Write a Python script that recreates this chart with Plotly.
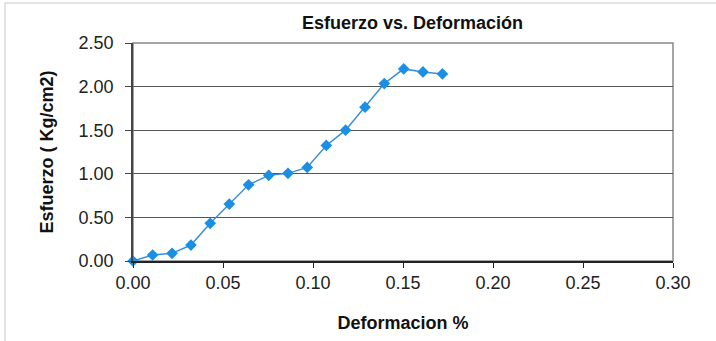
import plotly.graph_objects as go

deformacion = [0.0, 0.0109, 0.0217, 0.0322, 0.0429, 0.0535, 0.0642, 0.0754, 0.0861,
               0.0968, 0.1074, 0.1181, 0.1289, 0.1396, 0.1504, 0.1611, 0.1719]
esfuerzo = [0.0, 0.069, 0.088, 0.183, 0.432, 0.653, 0.874, 0.982, 1.005,
            1.073, 1.325, 1.50, 1.764, 2.035, 2.203, 2.168, 2.145]

x_ticks = [0.0, 0.05, 0.10, 0.15, 0.20, 0.25, 0.30]
x_labels = ["0.00", "0.05", "0.10", "0.15", "0.20", "0.25", "0.30"]
y_ticks = [0.0, 0.5, 1.0, 1.5, 2.0, 2.5]
y_labels = ["0.00", "0.50", "1.00", "1.50", "2.00", "2.50"]

FONT = "Liberation Sans, Arial, sans-serif"

fig = go.Figure()
fig.add_trace(go.Scatter(
    x=deformacion, y=esfuerzo, mode="lines+markers",
    line=dict(color="#3b8fd9", width=1.5),
    marker=dict(symbol="diamond", size=9, color="#1a8fe3"),
    cliponaxis=False, showlegend=False,
))

L, R, T, B = 133, 716 - 673, 43, 341 - 261
pw, ph = 673 - 133, 261 - 43

fig.update_layout(
    width=716, height=341,
    margin=dict(l=L, r=R, t=T, b=B, pad=0),
    paper_bgcolor="white", plot_bgcolor="white",
    font=dict(family=FONT, color="#222"),
    title=dict(text="<b>Esfuerzo vs. Deformación</b>", x=412.5 / 716, xanchor="center",
               y=1 - 22.5 / 341, yanchor="middle", font=dict(size=18, color="#111")),
    xaxis=dict(range=[0, 0.30], tickvals=x_ticks, ticktext=x_labels,
               showgrid=False, zeroline=False, showline=True, linecolor="#222",
               linewidth=1.5, ticks="outside", ticklen=5, tickcolor="#222",
               tickfont=dict(size=18, color="#222"),
               title=dict(text="<b>Deformacion %</b>", font=dict(size=18, color="#111"),
                          standoff=24)),
    yaxis=dict(range=[0, 2.5], tickvals=y_ticks, ticktext=y_labels,
               showgrid=True, gridcolor="#555", gridwidth=1, zeroline=False,
               showline=True, linecolor="#444", linewidth=1.5,
               ticks="outside", ticklen=6, tickcolor="#444",
               ticklabelstandoff=8,
               tickfont=dict(size=18, color="#222"),
               title=dict(text="<b>Esfuerzo ( Kg/cm2)</b>", font=dict(size=18, color="#111"),
                          standoff=20)),
    shapes=[
        dict(type="rect", xref="paper", yref="paper", x0=0, x1=1, y0=0, y1=1,
             line=dict(color="#888", width=1.5), layer="below"),
        dict(type="rect", xref="paper", yref="paper",
             x0=(5 - L) / pw, x1=(730 - L) / pw,
             y0=(261 - 360) / ph, y1=(261 - 3) / ph,
             line=dict(color="#dcdcdc", width=1.5), layer="below"),
    ],
)

fig.write_html("out.html", config={"displayModeBar": False},
               post_script="document.body.style.margin='0';")
